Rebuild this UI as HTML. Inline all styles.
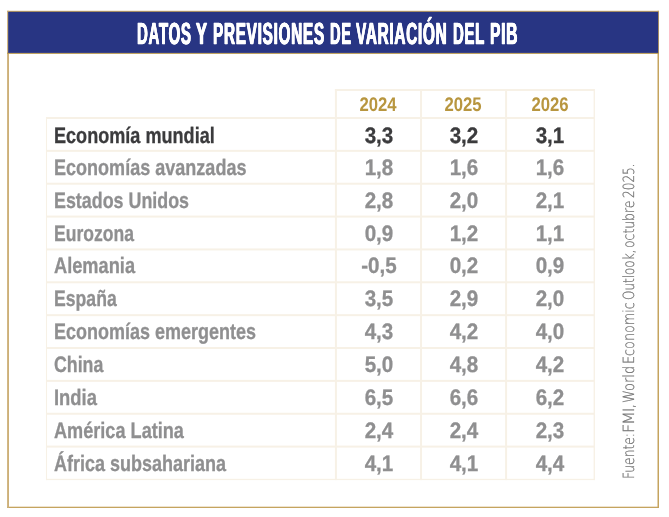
<!DOCTYPE html>
<html lang="es"><head><meta charset="utf-8"><title>Datos y previsiones de variación del PIB</title>
<style>
html,body{margin:0;padding:0;background:#fff;}
body{width:669px;height:517px;position:relative;overflow:hidden;font-family:'Liberation Sans', sans-serif;}
svg{position:absolute;left:0;top:0;}
.w{margin:0;padding:0;border:0;font:inherit;}
.g{fill:#c5a45f;}
.ln{fill:#f7f1e6;}
.t{position:absolute;white-space:nowrap;line-height:1;font-weight:bold;transform-origin:0 0;font-family:'Liberation Sans', sans-serif;text-rendering:geometricPrecision;}
.n{width:100px;text-align:center;transform-origin:50% 0;}
.s{font-family:'DejaVu Sans', 'Liberation Sans', sans-serif;font-size:15.4px;font-weight:200;color:#747474;-webkit-text-stroke:0.25px #747474;}
</style></head><body>
<svg width="669" height="517" viewBox="0 0 669 517">
<rect class="g" x="7" y="10.8" width="652" height="1.2"/>
<rect class="g" x="7" y="506.7" width="652" height="1.3"/>
<rect x="7.1" y="10.8" width="1.9" height="497.2" fill="#cdb078"/>
<rect class="g" x="657.5" y="10.8" width="1.5" height="497.2"/>
<rect x="7.1" y="52.5" width="651.9" height="1.4" fill="#b99a52"/>
<rect x="8.2" y="11.8" width="650" height="41.1" fill="#283583"/>
<rect class="ln" x="334.90" y="89.00" width="260.10" height="2"/>
<rect class="ln" x="46.00" y="117.00" width="549.00" height="2"/>
<rect class="ln" x="46.00" y="149.86" width="549.00" height="2"/>
<rect class="ln" x="46.00" y="182.72" width="549.00" height="2"/>
<rect class="ln" x="46.00" y="215.58" width="549.00" height="2"/>
<rect class="ln" x="46.00" y="248.44" width="549.00" height="2"/>
<rect class="ln" x="46.00" y="281.30" width="549.00" height="2"/>
<rect class="ln" x="46.00" y="314.16" width="549.00" height="2"/>
<rect class="ln" x="46.00" y="347.02" width="549.00" height="2"/>
<rect class="ln" x="46.00" y="379.88" width="549.00" height="2"/>
<rect class="ln" x="46.00" y="412.74" width="549.00" height="2"/>
<rect class="ln" x="46.00" y="445.60" width="549.00" height="2"/>
<rect class="ln" x="46.00" y="478.81" width="549.00" height="1.3"/>
<rect class="ln" x="45.95" y="117.00" width="1.1" height="363.11"/>
<rect class="ln" x="334.90" y="89.00" width="2" height="391.11"/>
<rect class="ln" x="420.05" y="89.00" width="2" height="391.11"/>
<rect class="ln" x="505.10" y="89.00" width="2" height="391.11"/>
<rect class="ln" x="593.60" y="89.00" width="1.4" height="391.11"/>
</svg>
<h1 class="w">
<span class="t" style="left:137.22px;top:18.60px;font-size:30.5px;color:#fff;transform:scaleX(0.4922);-webkit-text-stroke:0.5px #fff;text-shadow:0.7px 0 0 #fff,-0.7px 0 0 #fff;letter-spacing:1.4px;">DATOS</span>
<span class="t" style="left:195.53px;top:18.60px;font-size:30.5px;color:#fff;transform:scaleX(0.5403);-webkit-text-stroke:0.5px #fff;text-shadow:0.7px 0 0 #fff,-0.7px 0 0 #fff;letter-spacing:1.4px;">Y</span>
<span class="t" style="left:212.69px;top:18.60px;font-size:30.5px;color:#fff;transform:scaleX(0.5034);-webkit-text-stroke:0.5px #fff;text-shadow:0.7px 0 0 #fff,-0.7px 0 0 #fff;letter-spacing:1.4px;">PREVISIONES</span>
<span class="t" style="left:330.14px;top:18.60px;font-size:30.5px;color:#fff;transform:scaleX(0.4815);-webkit-text-stroke:0.5px #fff;text-shadow:0.7px 0 0 #fff,-0.7px 0 0 #fff;letter-spacing:1.4px;">DE</span>
<span class="t" style="left:356.07px;top:18.60px;font-size:30.5px;color:#fff;transform:scaleX(0.5035);-webkit-text-stroke:0.5px #fff;text-shadow:0.7px 0 0 #fff,-0.7px 0 0 #fff;letter-spacing:1.4px;">VARIACIÓN</span>
<span class="t" style="left:453.32px;top:18.60px;font-size:30.5px;color:#fff;transform:scaleX(0.4902);-webkit-text-stroke:0.5px #fff;text-shadow:0.7px 0 0 #fff,-0.7px 0 0 #fff;letter-spacing:1.4px;">DEL</span>
<span class="t" style="left:489.67px;top:18.60px;font-size:30.5px;color:#fff;transform:scaleX(0.5134);-webkit-text-stroke:0.5px #fff;text-shadow:0.7px 0 0 #fff,-0.7px 0 0 #fff;letter-spacing:1.4px;">PIB</span>
</h1>
<div class="w" role="table">
<div class="w" role="row">
<span class="t n" style="left:328.12px;top:95.90px;font-size:19.7px;color:#b8963f;transform:scaleX(0.8490);">2024</span>
<span class="t n" style="left:413.23px;top:95.90px;font-size:19.7px;color:#b8963f;transform:scaleX(0.8490);">2025</span>
<span class="t n" style="left:499.85px;top:95.90px;font-size:19.7px;color:#b8963f;transform:scaleX(0.8490);">2026</span>
</div>
<div class="w" role="row">
<span class="t" style="left:54.09px;top:125.10px;font-size:22.4px;color:#3b3b3d;transform:scaleX(0.8077);-webkit-text-stroke:0.3px #3b3b3d;">Economía mundial</span>
<span class="t n" style="left:328.68px;top:125.10px;font-size:22.4px;color:#3b3b3d;-webkit-text-stroke:0.3px #3b3b3d;transform:scaleX(0.9200);">3,3</span>
<span class="t n" style="left:413.78px;top:125.10px;font-size:22.4px;color:#3b3b3d;-webkit-text-stroke:0.3px #3b3b3d;transform:scaleX(0.9200);">3,2</span>
<span class="t n" style="left:500.40px;top:125.10px;font-size:22.4px;color:#3b3b3d;-webkit-text-stroke:0.3px #3b3b3d;transform:scaleX(0.9200);">3,1</span>
</div>
<div class="w" role="row">
<span class="t" style="left:54.09px;top:157.10px;font-size:22.4px;color:#8f8f90;transform:scaleX(0.8055);-webkit-text-stroke:0.3px #8f8f90;">Economías avanzadas</span>
<span class="t n" style="left:328.68px;top:157.10px;font-size:22.4px;color:#8f8f90;-webkit-text-stroke:0.3px #8f8f90;transform:scaleX(0.9200);">1,8</span>
<span class="t n" style="left:413.78px;top:157.10px;font-size:22.4px;color:#8f8f90;-webkit-text-stroke:0.3px #8f8f90;transform:scaleX(0.9200);">1,6</span>
<span class="t n" style="left:500.40px;top:157.10px;font-size:22.4px;color:#8f8f90;-webkit-text-stroke:0.3px #8f8f90;transform:scaleX(0.9200);">1,6</span>
</div>
<div class="w" role="row">
<span class="t" style="left:54.10px;top:190.10px;font-size:22.4px;color:#8f8f90;transform:scaleX(0.7982);-webkit-text-stroke:0.3px #8f8f90;">Estados Unidos</span>
<span class="t n" style="left:328.68px;top:190.10px;font-size:22.4px;color:#8f8f90;-webkit-text-stroke:0.3px #8f8f90;transform:scaleX(0.9200);">2,8</span>
<span class="t n" style="left:413.78px;top:190.10px;font-size:22.4px;color:#8f8f90;-webkit-text-stroke:0.3px #8f8f90;transform:scaleX(0.9200);">2,0</span>
<span class="t n" style="left:500.40px;top:190.10px;font-size:22.4px;color:#8f8f90;-webkit-text-stroke:0.3px #8f8f90;transform:scaleX(0.9200);">2,1</span>
</div>
<div class="w" role="row">
<span class="t" style="left:54.13px;top:223.10px;font-size:22.4px;color:#8f8f90;transform:scaleX(0.7831);-webkit-text-stroke:0.3px #8f8f90;">Eurozona</span>
<span class="t n" style="left:328.68px;top:223.10px;font-size:22.4px;color:#8f8f90;-webkit-text-stroke:0.3px #8f8f90;transform:scaleX(0.9200);">0,9</span>
<span class="t n" style="left:413.78px;top:223.10px;font-size:22.4px;color:#8f8f90;-webkit-text-stroke:0.3px #8f8f90;transform:scaleX(0.9200);">1,2</span>
<span class="t n" style="left:500.40px;top:223.10px;font-size:22.4px;color:#8f8f90;-webkit-text-stroke:0.3px #8f8f90;transform:scaleX(0.9200);">1,1</span>
</div>
<div class="w" role="row">
<span class="t" style="left:54.09px;top:255.10px;font-size:22.4px;color:#8f8f90;transform:scaleX(0.8141);-webkit-text-stroke:0.3px #8f8f90;">Alemania</span>
<span class="t n" style="left:328.68px;top:255.10px;font-size:22.4px;color:#8f8f90;-webkit-text-stroke:0.3px #8f8f90;transform:scaleX(0.9200);">-0,5</span>
<span class="t n" style="left:413.78px;top:255.10px;font-size:22.4px;color:#8f8f90;-webkit-text-stroke:0.3px #8f8f90;transform:scaleX(0.9200);">0,2</span>
<span class="t n" style="left:500.40px;top:255.10px;font-size:22.4px;color:#8f8f90;-webkit-text-stroke:0.3px #8f8f90;transform:scaleX(0.9200);">0,9</span>
</div>
<div class="w" role="row">
<span class="t" style="left:54.12px;top:288.10px;font-size:22.4px;color:#8f8f90;transform:scaleX(0.7872);-webkit-text-stroke:0.3px #8f8f90;">España</span>
<span class="t n" style="left:328.68px;top:288.10px;font-size:22.4px;color:#8f8f90;-webkit-text-stroke:0.3px #8f8f90;transform:scaleX(0.9200);">3,5</span>
<span class="t n" style="left:413.78px;top:288.10px;font-size:22.4px;color:#8f8f90;-webkit-text-stroke:0.3px #8f8f90;transform:scaleX(0.9200);">2,9</span>
<span class="t n" style="left:500.40px;top:288.10px;font-size:22.4px;color:#8f8f90;-webkit-text-stroke:0.3px #8f8f90;transform:scaleX(0.9200);">2,0</span>
</div>
<div class="w" role="row">
<span class="t" style="left:54.10px;top:321.10px;font-size:22.4px;color:#8f8f90;transform:scaleX(0.8032);-webkit-text-stroke:0.3px #8f8f90;">Economías emergentes</span>
<span class="t n" style="left:328.68px;top:321.10px;font-size:22.4px;color:#8f8f90;-webkit-text-stroke:0.3px #8f8f90;transform:scaleX(0.9200);">4,3</span>
<span class="t n" style="left:413.78px;top:321.10px;font-size:22.4px;color:#8f8f90;-webkit-text-stroke:0.3px #8f8f90;transform:scaleX(0.9200);">4,2</span>
<span class="t n" style="left:500.40px;top:321.10px;font-size:22.4px;color:#8f8f90;-webkit-text-stroke:0.3px #8f8f90;transform:scaleX(0.9200);">4,0</span>
</div>
<div class="w" role="row">
<span class="t" style="left:53.91px;top:354.10px;font-size:22.4px;color:#8f8f90;transform:scaleX(0.7935);-webkit-text-stroke:0.3px #8f8f90;">China</span>
<span class="t n" style="left:328.68px;top:354.10px;font-size:22.4px;color:#8f8f90;-webkit-text-stroke:0.3px #8f8f90;transform:scaleX(0.9200);">5,0</span>
<span class="t n" style="left:413.78px;top:354.10px;font-size:22.4px;color:#8f8f90;-webkit-text-stroke:0.3px #8f8f90;transform:scaleX(0.9200);">4,8</span>
<span class="t n" style="left:500.40px;top:354.10px;font-size:22.4px;color:#8f8f90;-webkit-text-stroke:0.3px #8f8f90;transform:scaleX(0.9200);">4,2</span>
</div>
<div class="w" role="row">
<span class="t" style="left:54.07px;top:387.10px;font-size:22.4px;color:#8f8f90;transform:scaleX(0.8216);-webkit-text-stroke:0.3px #8f8f90;">India</span>
<span class="t n" style="left:328.68px;top:387.10px;font-size:22.4px;color:#8f8f90;-webkit-text-stroke:0.3px #8f8f90;transform:scaleX(0.9200);">6,5</span>
<span class="t n" style="left:413.78px;top:387.10px;font-size:22.4px;color:#8f8f90;-webkit-text-stroke:0.3px #8f8f90;transform:scaleX(0.9200);">6,6</span>
<span class="t n" style="left:500.40px;top:387.10px;font-size:22.4px;color:#8f8f90;-webkit-text-stroke:0.3px #8f8f90;transform:scaleX(0.9200);">6,2</span>
</div>
<div class="w" role="row">
<span class="t" style="left:54.10px;top:420.10px;font-size:22.4px;color:#8f8f90;transform:scaleX(0.8094);-webkit-text-stroke:0.3px #8f8f90;">América Latina</span>
<span class="t n" style="left:328.68px;top:420.10px;font-size:22.4px;color:#8f8f90;-webkit-text-stroke:0.3px #8f8f90;transform:scaleX(0.9200);">2,4</span>
<span class="t n" style="left:413.78px;top:420.10px;font-size:22.4px;color:#8f8f90;-webkit-text-stroke:0.3px #8f8f90;transform:scaleX(0.9200);">2,4</span>
<span class="t n" style="left:500.40px;top:420.10px;font-size:22.4px;color:#8f8f90;-webkit-text-stroke:0.3px #8f8f90;transform:scaleX(0.9200);">2,3</span>
</div>
<div class="w" role="row">
<span class="t" style="left:54.10px;top:453.10px;font-size:22.4px;color:#8f8f90;transform:scaleX(0.8037);-webkit-text-stroke:0.3px #8f8f90;">África subsahariana</span>
<span class="t n" style="left:328.68px;top:453.10px;font-size:22.4px;color:#8f8f90;-webkit-text-stroke:0.3px #8f8f90;transform:scaleX(0.9200);">4,1</span>
<span class="t n" style="left:413.78px;top:453.10px;font-size:22.4px;color:#8f8f90;-webkit-text-stroke:0.3px #8f8f90;transform:scaleX(0.9200);">4,1</span>
<span class="t n" style="left:500.40px;top:453.10px;font-size:22.4px;color:#8f8f90;-webkit-text-stroke:0.3px #8f8f90;transform:scaleX(0.9200);">4,4</span>
</div>
</div>
<p class="w">
<span class="t s" style="left:622.10px;top:479.29px;transform:rotate(-90deg) scaleX(0.7944);">Fuente:</span>
<span class="t s" style="left:622.10px;top:432.53px;transform:rotate(-90deg) scaleX(1.0474);letter-spacing:-1.2px;">FMI,</span>
<span class="t s" style="left:622.10px;top:402.84px;transform:rotate(-90deg) scaleX(0.8436);">World</span>
<span class="t s" style="left:622.10px;top:364.15px;transform:rotate(-90deg) scaleX(0.8307);">Economic</span>
<span class="t s" style="left:622.10px;top:299.97px;transform:rotate(-90deg) scaleX(0.7772);">Outlook,</span>
<span class="t s" style="left:622.10px;top:247.71px;transform:rotate(-90deg) scaleX(0.8053);">octubre</span>
<span class="t s" style="left:622.10px;top:197.79px;transform:rotate(-90deg) scaleX(0.7854);">2025.</span>
</p>
</body></html>
